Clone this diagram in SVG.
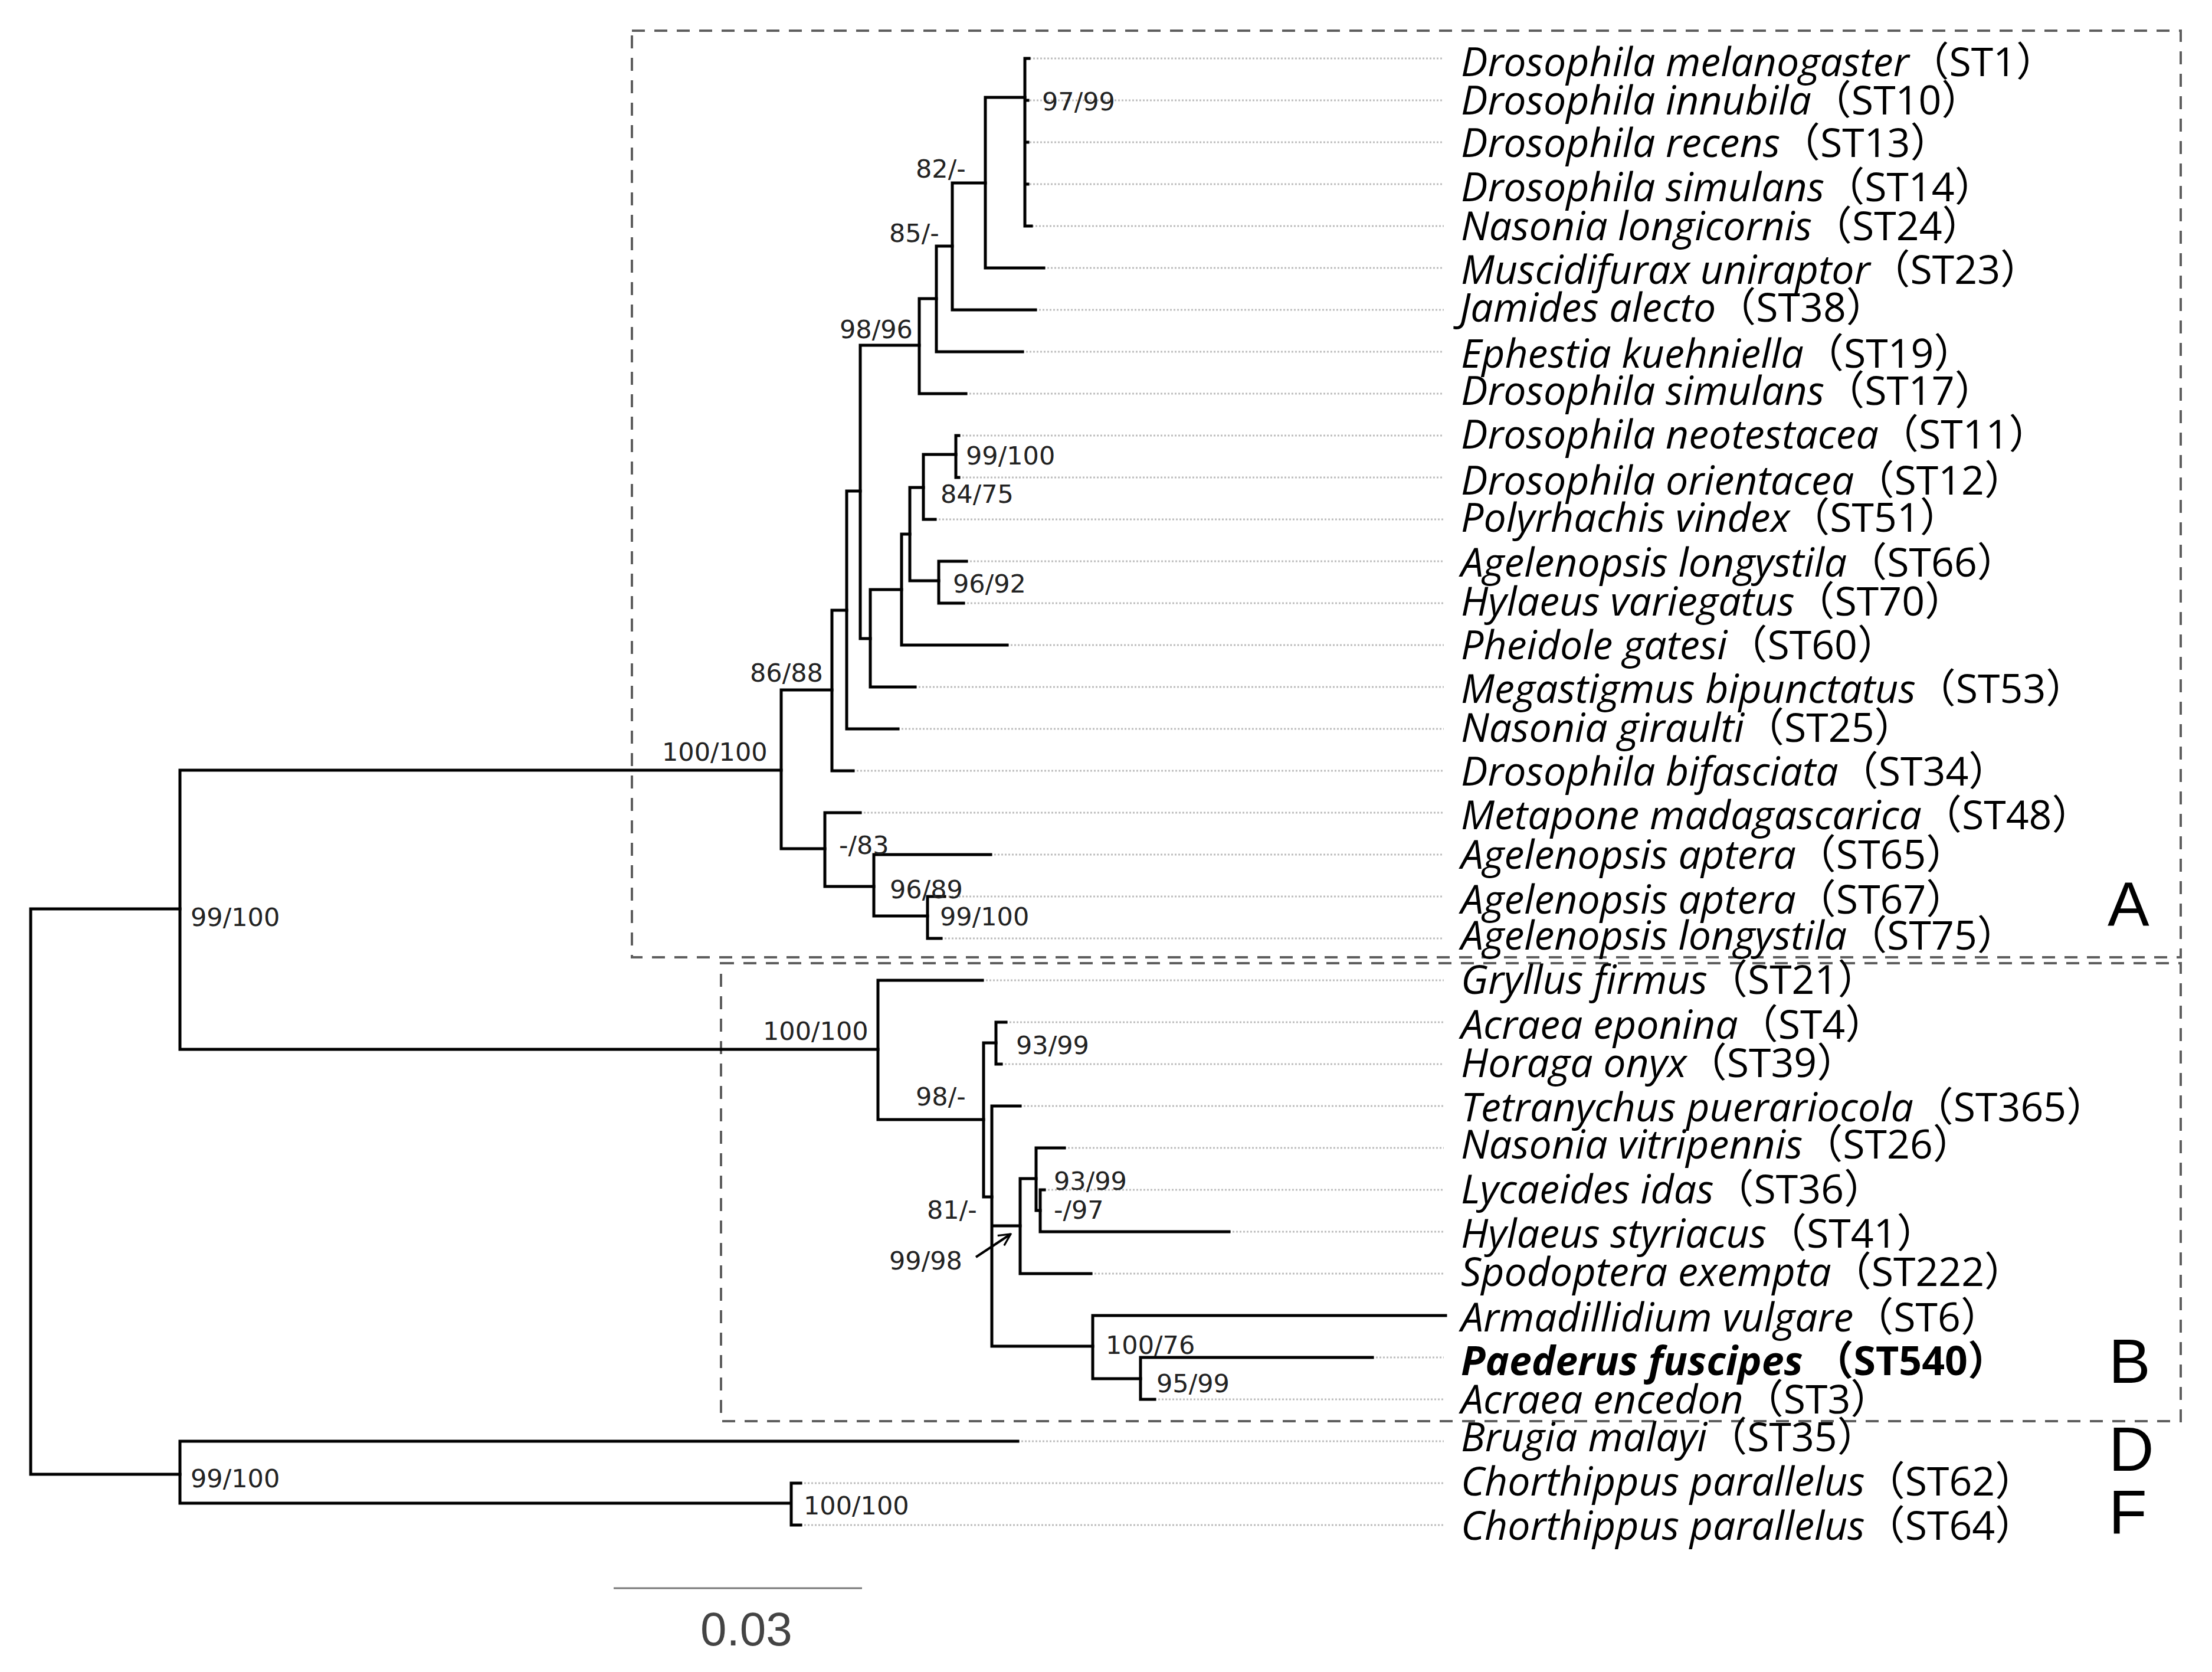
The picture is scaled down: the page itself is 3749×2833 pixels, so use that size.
<svg xmlns="http://www.w3.org/2000/svg" width="3749" height="2833" viewBox="0 0 3749 2833">
<style>
.br{stroke:#000;stroke-width:5;stroke-linecap:square;fill:none}
.lead{stroke:#bdbdbd;stroke-width:3;stroke-dasharray:3 3;fill:none}
.box{stroke:#5e5e5e;stroke-width:4;stroke-dasharray:22 16;fill:none}
.sup{font-family:"DejaVu Sans",Verdana,sans-serif;font-size:43px;fill:#222}
.tx{font-family:"Open Sans","Noto Sans CJK SC",sans-serif;font-size:68px;fill:#000}
.sp{font-style:italic}
.st{font-style:normal}
.grp{font-family:"Liberation Sans",Arial,sans-serif;font-size:106px;fill:#000}
</style>
<defs>
<marker id="ah" viewBox="0 0 12 12" refX="11" refY="6" markerWidth="6" markerHeight="6" orient="auto" markerUnits="strokeWidth">
<path d="M1,1 L11,6 L1,11" fill="none" stroke="#000" stroke-width="1.6"/>
</marker>
</defs>
<rect width="3749" height="2833" fill="#fff"/>

<g id="boxes">
<rect id="box-A" class="box" x="1071" y="52" width="2625" height="1570"/>
<rect id="box-B" class="box" x="1222" y="1632" width="2474" height="776"/>
</g>

<g id="leaders">
<path class="lead" d="M1745,99H2447M1745,170H2447M1745,241H2447M1745,312H2447M1749,383H2447M1769,454H2447M1755,525H2447M1733,596H2447M1637,667H2447M1625,738H2447M1625,809H2447M1585,880H2447M1638,951H2447M1633,1022H2447M1707,1093H2447M1551,1164H2447M1522,1235H2447M1446,1306H2447M1458,1377H2447M1679,1448H2447M1601,1519H2447M1595,1590H2447M1665,1661H2447M1705,1732H2447M1697,1803H2447M1729,1874H2447M1804,1945H2447M1770,2016H2447M2083,2087H2447M1849,2158H2447M2326,2300H2447M1957,2371H2447M1725,2442H2447M1357,2513H2447M1357,2584H2447"/>
</g>

<g id="connectors">
<path class="br" d="M52,1540V2498M52,1540H305M52,2498H305"/>
<path class="br" d="M305,1305V1778M305,1305H1324M305,1778H1488"/>
<path class="br" d="M305,2442V2547M305,2442H1725M305,2547H1341M1341,2513V2584M1341,2513H1357M1341,2584H1357"/>
<path class="br" d="M1324,1169V1438M1324,1169H1410M1324,1438H1398"/>
<path class="br" d="M1410,1034V1306M1410,1306H1446M1410,1034H1435"/>
<path class="br" d="M1435,832V1235M1435,1235H1522M1435,832H1458"/>
<path class="br" d="M1458,585V1082M1458,585H1558M1458,1082H1475"/>
<path class="br" d="M1558,506V667M1558,667H1637M1558,506H1587"/>
<path class="br" d="M1587,417V596M1587,596H1733M1587,417H1614"/>
<path class="br" d="M1614,310V525M1614,525H1755M1614,310H1670"/>
<path class="br" d="M1670,165V454M1670,454H1769M1670,165H1737"/>
<path class="br" d="M1737,99V383M1737,99H1744M1737,170H1742M1737,241H1742M1737,312H1742M1737,383H1748"/>
<path class="br" d="M1475,999V1164M1475,1164H1551M1475,999H1528"/>
<path class="br" d="M1528,905V1093M1528,1093H1707M1528,905H1542"/>
<path class="br" d="M1542,826V984M1542,826H1565M1542,984H1591"/>
<path class="br" d="M1565,770V880M1565,880H1585M1565,770H1620"/>
<path class="br" d="M1620,738V809M1620,738H1625M1620,809H1625"/>
<path class="br" d="M1591,951V1022M1591,951H1638M1591,1022H1633"/>
<path class="br" d="M1398,1377V1502M1398,1377H1458M1398,1502H1481"/>
<path class="br" d="M1481,1448V1552M1481,1448H1679M1481,1552H1572"/>
<path class="br" d="M1572,1519V1590M1572,1519H1601M1572,1590H1595"/>
<path class="br" d="M1488,1661V1897M1488,1661H1665M1488,1897H1667"/>
<path class="br" d="M1667,1767V2028M1667,1767H1688M1667,2028H1681"/>
<path class="br" d="M1688,1732V1803M1688,1732H1705M1688,1803H1697"/>
<path class="br" d="M1681,1874V2281M1681,1874H1729M1681,2077H1729M1681,2281H1852"/>
<path class="br" d="M1729,1997V2158M1729,2158H1849M1729,1997H1756"/>
<path class="br" d="M1756,1945V2051M1756,1945H1804M1756,2051H1763"/>
<path class="br" d="M1763,2016V2087M1763,2016H1770M1763,2087H2083"/>
<path class="br" d="M1852,2229V2336M1852,2229H2450M1852,2336H1933"/>
<path class="br" d="M1933,2300V2371M1933,2300H2326M1933,2371H1957"/>
<line x1="1654" y1="2130" x2="1713" y2="2091" stroke="#000" stroke-width="4" marker-end="url(#ah)"/>
</g>

<g id="support">
<text class="sup" x="1766" y="187">97/99</text>
<text class="sup" x="1552" y="301">82/-</text>
<text class="sup" x="1507" y="410">85/-</text>
<text class="sup" x="1423" y="573">98/96</text>
<text class="sup" x="1637" y="787">99/100</text>
<text class="sup" x="1594" y="852">84/75</text>
<text class="sup" x="1615" y="1004">96/92</text>
<text class="sup" x="1271" y="1155">86/88</text>
<text class="sup" x="1122" y="1289">100/100</text>
<text class="sup" x="1422" y="1447">-/83</text>
<text class="sup" x="1508" y="1522">96/89</text>
<text class="sup" x="1593" y="1568">99/100</text>
<text class="sup" x="323" y="1569">99/100</text>
<text class="sup" x="1293" y="1762">100/100</text>
<text class="sup" x="1722" y="1786">93/99</text>
<text class="sup" x="1552" y="1873">98/-</text>
<text class="sup" x="1786" y="2016">93/99</text>
<text class="sup" x="1571" y="2065">81/-</text>
<text class="sup" x="1786" y="2065">-/97</text>
<text class="sup" x="1507" y="2151">99/98</text>
<text class="sup" x="1874" y="2294">100/76</text>
<text class="sup" x="1960" y="2359">95/99</text>
<text class="sup" x="323" y="2520">99/100</text>
<text class="sup" x="1362" y="2566">100/100</text>
</g>

<g id="taxa" class="tx">
<g id="t-ST1"><text x="2476" y="129"><tspan class="sp">Drosophila melanogaster</tspan><tspan class="st">（ST1）</tspan></text></g>
<g id="t-ST10"><text x="2476" y="194"><tspan class="sp">Drosophila innubila</tspan><tspan class="st">（ST10）</tspan></text></g>
<g id="t-ST13"><text x="2476" y="266"><tspan class="sp">Drosophila recens</tspan><tspan class="st">（ST13）</tspan></text></g>
<g id="t-ST14"><text x="2476" y="341"><tspan class="sp">Drosophila simulans</tspan><tspan class="st">（ST14）</tspan></text></g>
<g id="t-ST24"><text x="2476" y="407"><tspan class="sp">Nasonia longicornis</tspan><tspan class="st">（ST24）</tspan></text></g>
<g id="t-ST23"><text x="2476" y="481"><tspan class="sp">Muscidifurax uniraptor</tspan><tspan class="st">（ST23）</tspan></text></g>
<g id="t-ST38"><text x="2474" y="545"><tspan class="sp">Jamides alecto</tspan><tspan class="st">（ST38）</tspan></text></g>
<g id="t-ST19"><text x="2476" y="623"><tspan class="sp">Ephestia kuehniella</tspan><tspan class="st">（ST19）</tspan></text></g>
<g id="t-ST17"><text x="2476" y="686"><tspan class="sp">Drosophila simulans</tspan><tspan class="st">（ST17）</tspan></text></g>
<g id="t-ST11"><text x="2476" y="760"><tspan class="sp">Drosophila neotestacea</tspan><tspan class="st">（ST11）</tspan></text></g>
<g id="t-ST12"><text x="2476" y="838"><tspan class="sp">Drosophila orientacea</tspan><tspan class="st">（ST12）</tspan></text></g>
<g id="t-ST51"><text x="2476" y="901"><tspan class="sp">Polyrhachis vindex</tspan><tspan class="st">（ST51）</tspan></text></g>
<g id="t-ST66"><text x="2476" y="977"><tspan class="sp">Agelenopsis longystila</tspan><tspan class="st">（ST66）</tspan></text></g>
<g id="t-ST70"><text x="2476" y="1043"><tspan class="sp">Hylaeus variegatus</tspan><tspan class="st">（ST70）</tspan></text></g>
<g id="t-ST60"><text x="2476" y="1117"><tspan class="sp">Pheidole gatesi</tspan><tspan class="st">（ST60）</tspan></text></g>
<g id="t-ST53"><text x="2476" y="1191"><tspan class="sp">Megastigmus bipunctatus</tspan><tspan class="st">（ST53）</tspan></text></g>
<g id="t-ST25"><text x="2476" y="1257"><tspan class="sp">Nasonia giraulti</tspan><tspan class="st">（ST25）</tspan></text></g>
<g id="t-ST34"><text x="2476" y="1331"><tspan class="sp">Drosophila bifasciata</tspan><tspan class="st">（ST34）</tspan></text></g>
<g id="t-ST48"><text x="2476" y="1405"><tspan class="sp">Metapone madagascarica</tspan><tspan class="st">（ST48）</tspan></text></g>
<g id="t-ST65"><text x="2476" y="1472"><tspan class="sp">Agelenopsis aptera</tspan><tspan class="st">（ST65）</tspan></text></g>
<g id="t-ST67"><text x="2476" y="1548"><tspan class="sp">Agelenopsis aptera</tspan><tspan class="st">（ST67）</tspan></text></g>
<g id="t-ST75"><text x="2476" y="1609"><tspan class="sp">Agelenopsis longystila</tspan><tspan class="st">（ST75）</tspan></text></g>
<g id="t-ST21"><text x="2476" y="1684"><tspan class="sp">Gryllus firmus</tspan><tspan class="st">（ST21）</tspan></text></g>
<g id="t-ST4"><text x="2476" y="1760"><tspan class="sp">Acraea eponina</tspan><tspan class="st">（ST4）</tspan></text></g>
<g id="t-ST39"><text x="2476" y="1825"><tspan class="sp">Horaga onyx</tspan><tspan class="st">（ST39）</tspan></text></g>
<g id="t-ST365"><text x="2476" y="1900"><tspan class="sp">Tetranychus puerariocola</tspan><tspan class="st">（ST365）</tspan></text></g>
<g id="t-ST26"><text x="2476" y="1963"><tspan class="sp">Nasonia vitripennis</tspan><tspan class="st">（ST26）</tspan></text></g>
<g id="t-ST36"><text x="2476" y="2039"><tspan class="sp">Lycaeides idas</tspan><tspan class="st">（ST36）</tspan></text></g>
<g id="t-ST41"><text x="2476" y="2114"><tspan class="sp">Hylaeus styriacus</tspan><tspan class="st">（ST41）</tspan></text></g>
<g id="t-ST222"><text x="2476" y="2179"><tspan class="sp">Spodoptera exempta</tspan><tspan class="st">（ST222）</tspan></text></g>
<g id="t-ST6"><text x="2476" y="2256"><tspan class="sp">Armadillidium vulgare</tspan><tspan class="st">（ST6）</tspan></text></g>
<g id="t-ST540"><text x="2476" y="2330" font-weight="bold"><tspan class="sp">Paederus fuscipes </tspan><tspan class="st">（ST540）</tspan></text></g>
<g id="t-ST3"><text x="2476" y="2395"><tspan class="sp">Acraea encedon</tspan><tspan class="st">（ST3）</tspan></text></g>
<g id="t-ST35"><text x="2476" y="2459"><tspan class="sp">Brugia malayi</tspan><tspan class="st">（ST35）</tspan></text></g>
<g id="t-ST62"><text x="2476" y="2534"><tspan class="sp">Chorthippus parallelus</tspan><tspan class="st">（ST62）</tspan></text></g>
<g id="t-ST64"><text x="2476" y="2609"><tspan class="sp">Chorthippus parallelus</tspan><tspan class="st">（ST64）</tspan></text></g>
</g>

<g id="groups" class="grp">
<text id="g-A" x="3572" y="1568">A</text>
<text id="g-B" x="3574" y="2343">B</text>
<text id="g-D" x="3574" y="2492">D</text>
<text id="g-F" x="3574" y="2599">F</text>
</g>

<g id="scale">
<line x1="1040" y1="2691" x2="1461" y2="2691" stroke="#777" stroke-width="3"/>
<text x="1187" y="2788" font-family="Liberation Sans, Arial, sans-serif" font-size="80" fill="#444">0.03</text>
</g>
</svg>
